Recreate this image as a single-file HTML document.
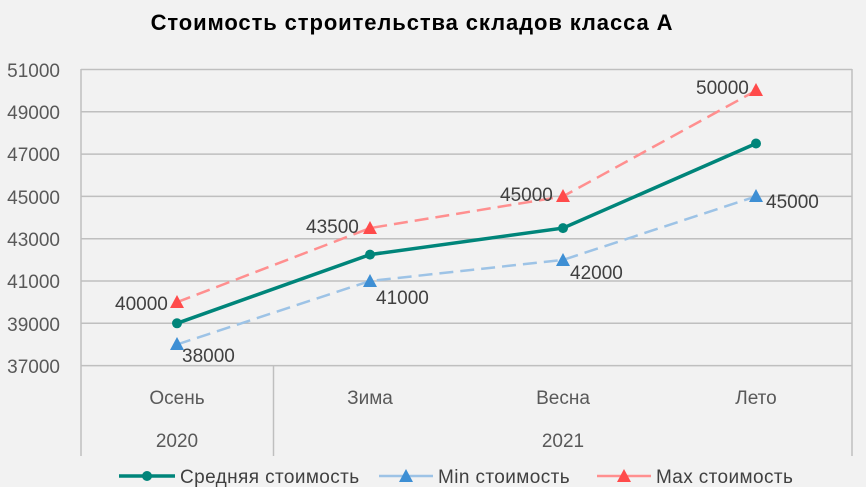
<!DOCTYPE html><html><head><meta charset="utf-8"><style>body{margin:0;background:#f2f2f2}svg{display:block}text{font-family:"Liberation Sans",sans-serif}</style></head><body>
<svg width="866" height="487" viewBox="0 0 866 487" xmlns="http://www.w3.org/2000/svg">
<rect width="866" height="487" fill="#f2f2f2"/>
<text x="412" y="30" text-anchor="middle" font-size="22" font-weight="bold" fill="#000" letter-spacing="0.9">Стоимость строительства складов класса А</text>
<g stroke="#bfbfbf" stroke-width="1.5" fill="none">
<path d="M81 69.5H852M81 111.8H852M81 154.1H852M81 196.4H852M81 238.7H852M81 281H852M81 323.3H852M81 365.6H852"/>
<path d="M81 69V456M852 69V456M273.5 366V456"/>
</g>
<g font-size="19" fill="#595959" text-anchor="end">
<text x="60" y="77">51000</text><text x="60" y="119">49000</text><text x="60" y="161">47000</text><text x="60" y="204">45000</text><text x="60" y="246">43000</text><text x="60" y="288">41000</text><text x="60" y="331">39000</text><text x="60" y="373">37000</text>
</g>
<g font-size="19" fill="#595959" text-anchor="middle">
<text x="177" y="404">Осень</text><text x="370" y="404">Зима</text><text x="563" y="404">Весна</text><text x="756" y="404">Лето</text>
<text x="177" y="447">2020</text><text x="563" y="447">2021</text>
</g>
<polyline points="177,344.5 370,281 563,259.9 756,196.4" fill="none" stroke="#9dc3e6" stroke-width="2.5" stroke-dasharray="14,7"/>
<polyline points="177,302.2 370,228.1 563,196.4 756,90.6" fill="none" stroke="#ff8f8f" stroke-width="2.5" stroke-dasharray="14,7"/>
<polyline points="177,323.3 370,254.6 563,228.1 756,143.5" fill="none" stroke="#00857a" stroke-width="3.5"/>
<g fill="#00857a"><circle cx="177" cy="323.3" r="5"/><circle cx="370" cy="254.6" r="5"/><circle cx="563" cy="228.1" r="5"/><circle cx="756" cy="143.5" r="5"/></g>
<g fill="#3e8fd4"><path d="M177 337l-7 13h14z"/><path d="M370 274l-7 13h14z"/><path d="M563 253l-7 13h14z"/><path d="M756 189l-7 13h14z"/></g>
<g fill="#ff4b4b"><path d="M177 295l-7 13h14z"/><path d="M370 221l-7 13h14z"/><path d="M563 189l-7 13h14z"/><path d="M756 83l-7 13h14z"/></g>
<g font-size="19" fill="#404040">
<text x="115" y="310">40000</text><text x="182" y="362">38000</text>
<text x="306" y="233">43500</text><text x="376" y="304">41000</text>
<text x="500" y="201">45000</text><text x="570" y="279">42000</text>
<text x="696" y="94">50000</text><text x="766" y="208">45000</text>
</g>
<line x1="119" y1="476" x2="175" y2="476" stroke="#00857a" stroke-width="3.5"/><circle cx="147" cy="476" r="5" fill="#00857a"/>
<text x="180" y="483" font-size="19" fill="#404040" letter-spacing="0.4">Средняя стоимость</text>
<line x1="379" y1="476" x2="433" y2="476" stroke="#9dc3e6" stroke-width="2.5"/><path d="M406 469l-7 13h14z" fill="#3e8fd4"/>
<text x="438" y="483" font-size="19" fill="#404040" letter-spacing="0.4">Min стоимость</text>
<line x1="597" y1="476" x2="651" y2="476" stroke="#ff8f8f" stroke-width="2.5"/><path d="M624 469l-7 13h14z" fill="#ff4b4b"/>
<text x="656" y="483" font-size="19" fill="#404040" letter-spacing="0.4">Max стоимость</text>
</svg></body></html>
